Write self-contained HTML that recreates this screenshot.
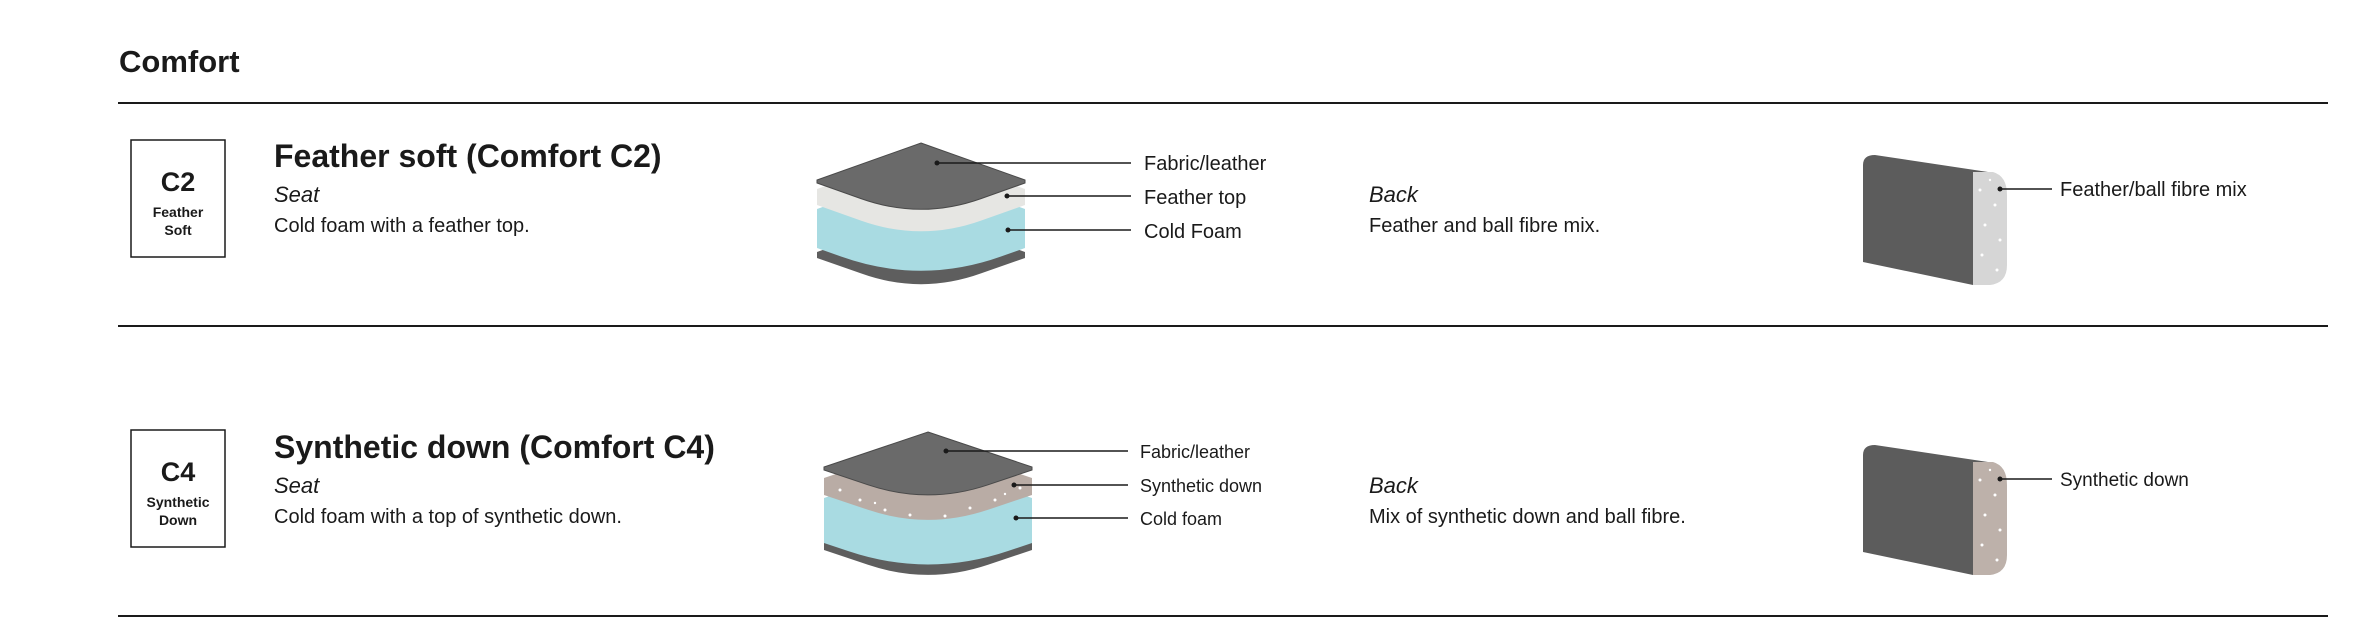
<!DOCTYPE html>
<html><head><meta charset="utf-8"><style>
html,body{margin:0;padding:0;background:#fff;}
svg{display:block;}
text{font-family:"Liberation Sans",sans-serif;fill:#1a1a1a;}
</style></head><body>
<svg width="2379" height="636" viewBox="0 0 2379 636" xmlns="http://www.w3.org/2000/svg">
<text x="119" y="72" font-size="31" font-weight="bold">Comfort</text>
<rect x="118" y="102" width="2210" height="2" fill="#1a1a1a"/>
<rect x="118" y="325" width="2210" height="2" fill="#1a1a1a"/>
<rect x="118" y="615" width="2210" height="2" fill="#1a1a1a"/>

<!-- Row 1 -->
<rect x="131" y="140" width="94" height="117" fill="#fff" stroke="#1a1a1a" stroke-width="1.5"/>
<text x="178" y="191" font-size="27" font-weight="bold" text-anchor="middle">C2</text>
<text x="178" y="217" font-size="14" font-weight="bold" text-anchor="middle">Feather</text>
<text x="178" y="235" font-size="14" font-weight="bold" text-anchor="middle">Soft</text>
<text x="274" y="167" font-size="32" font-weight="bold">Feather soft (Comfort C2)</text>
<text x="274" y="202" font-size="22" font-style="italic">Seat</text>
<text x="274" y="232" font-size="20">Cold foam with a feather top.</text>

<!-- seat stack row1 cx=921 w=104 h=37 -->
<path d="M921,215 L1025,252 L1025,258 L981,273.4 Q921,295 861,273.4 L817,258 L817,252 Z" fill="#5e5e5e"/>
<path d="M921,172 L1025,209 L1025,248 L1001,256.5 Q921,285 841,256.5 L817,248 L817,209 Z" fill="#a9dbe2"/>
<path d="M921,152 L1025,189 L1025,205 L981,220.6 Q921,242 861,220.6 L817,205 L817,189 Z" fill="#e6e6e3"/>
<path d="M921,143 L1025,180 L1025,183 L981,198.6 Q921,220 861,198.6 L817,183 L817,180 Z" fill="#6a6a6a" stroke="#4a4a4a" stroke-width="1"/>
<g stroke="#1a1a1a" stroke-width="1.6">
<line x1="937" y1="163" x2="1131" y2="163"/>
<line x1="1007" y1="196" x2="1131" y2="196"/>
<line x1="1008" y1="230" x2="1131" y2="230"/>
</g>
<circle cx="937" cy="163" r="2.5" fill="#1a1a1a"/><circle cx="1007" cy="196" r="2.5" fill="#1a1a1a"/><circle cx="1008" cy="230" r="2.5" fill="#1a1a1a"/>
<text x="1144" y="170" font-size="20">Fabric/leather</text>
<text x="1144" y="204" font-size="20">Feather top</text>
<text x="1144" y="238" font-size="20">Cold Foam</text>

<text x="1369" y="202" font-size="22" font-style="italic">Back</text>
<text x="1369" y="232" font-size="20">Feather and ball fibre mix.</text>

<path d="M1863,165 Q1863,155 1875,155 L1988,172 L1973,285 L1863,262 Z" fill="#5c5c5c"/>
<path d="M1973,172 L1993,172 Q2007,176 2007,195 L2007,265 Q2007,283 1990,285 L1973,285 Z" fill="#d6d6d6"/>
<g fill="#fff"><circle cx="1980" cy="190" r="1.5"/><circle cx="1995" cy="205" r="1.5"/><circle cx="1985" cy="225" r="1.5"/><circle cx="2000" cy="240" r="1.5"/><circle cx="1982" cy="255" r="1.5"/><circle cx="1997" cy="270" r="1.5"/><circle cx="1990" cy="180" r="1.2"/></g>
<line x1="2000" y1="189" x2="2052" y2="189" stroke="#1a1a1a" stroke-width="1.6"/>
<circle cx="2000" cy="189" r="2.5" fill="#1a1a1a"/>
<text x="2060" y="196" font-size="20">Feather/ball fibre mix</text>

<!-- Row 2 -->
<rect x="131" y="430" width="94" height="117" fill="#fff" stroke="#1a1a1a" stroke-width="1.5"/>
<text x="178" y="481" font-size="27" font-weight="bold" text-anchor="middle">C4</text>
<text x="178" y="507" font-size="14" font-weight="bold" text-anchor="middle">Synthetic</text>
<text x="178" y="525" font-size="14" font-weight="bold" text-anchor="middle">Down</text>
<text x="274" y="458" font-size="32" font-weight="bold">Synthetic down (Comfort C4)</text>
<text x="274" y="493" font-size="22" font-style="italic">Seat</text>
<text x="274" y="523" font-size="20">Cold foam with a top of synthetic down.</text>

<!-- seat stack row2 cx=928 w=104 h=35 -->
<path d="M928,507 L1032,542 L1032,550 L988,564.8 Q928,585 868,564.8 L824,550 L824,542 Z" fill="#5e5e5e"/>
<path d="M928,463 L1032,498 L1032,543 L1008,551 Q928,578 848,551 L824,543 L824,498 Z" fill="#a9dbe2"/>
<path d="M928,443 L1032,478 L1032,495 L988,509.8 Q928,530 868,509.8 L824,495 L824,478 Z" fill="#b9aca5"/>
<g fill="#fff"><circle cx="840" cy="490" r="1.5"/><circle cx="860" cy="500" r="1.5"/><circle cx="885" cy="510" r="1.5"/><circle cx="910" cy="515" r="1.5"/><circle cx="945" cy="516" r="1.5"/><circle cx="970" cy="508" r="1.5"/><circle cx="995" cy="500" r="1.5"/><circle cx="1020" cy="488" r="1.5"/><circle cx="875" cy="503" r="1.2"/><circle cx="1005" cy="494" r="1.2"/></g>
<path d="M928,432 L1032,467 L1032,470 L988,484.8 Q928,505 868,484.8 L824,470 L824,467 Z" fill="#6a6a6a" stroke="#4a4a4a" stroke-width="1"/>
<g stroke="#1a1a1a" stroke-width="1.6">
<line x1="946" y1="451" x2="1128" y2="451"/>
<line x1="1014" y1="485" x2="1128" y2="485"/>
<line x1="1016" y1="518" x2="1128" y2="518"/>
</g>
<circle cx="946" cy="451" r="2.5" fill="#1a1a1a"/><circle cx="1014" cy="485" r="2.5" fill="#1a1a1a"/><circle cx="1016" cy="518" r="2.5" fill="#1a1a1a"/>
<text x="1140" y="458" font-size="18">Fabric/leather</text>
<text x="1140" y="492" font-size="18">Synthetic down</text>
<text x="1140" y="525" font-size="18">Cold foam</text>

<text x="1369" y="493" font-size="22" font-style="italic">Back</text>
<text x="1369" y="523" font-size="20">Mix of synthetic down and ball fibre.</text>

<path d="M1863,455 Q1863,445 1875,445 L1988,462 L1973,575 L1863,552 Z" fill="#5c5c5c"/>
<path d="M1973,462 L1993,462 Q2007,466 2007,485 L2007,555 Q2007,573 1990,575 L1973,575 Z" fill="#bdb1aa"/>
<g fill="#fff"><circle cx="1980" cy="480" r="1.5"/><circle cx="1995" cy="495" r="1.5"/><circle cx="1985" cy="515" r="1.5"/><circle cx="2000" cy="530" r="1.5"/><circle cx="1982" cy="545" r="1.5"/><circle cx="1997" cy="560" r="1.5"/><circle cx="1990" cy="470" r="1.2"/></g>
<line x1="2000" y1="479" x2="2052" y2="479" stroke="#1a1a1a" stroke-width="1.6"/>
<circle cx="2000" cy="479" r="2.5" fill="#1a1a1a"/>
<text x="2060" y="486" font-size="19">Synthetic down</text>
</svg>
</body></html>
